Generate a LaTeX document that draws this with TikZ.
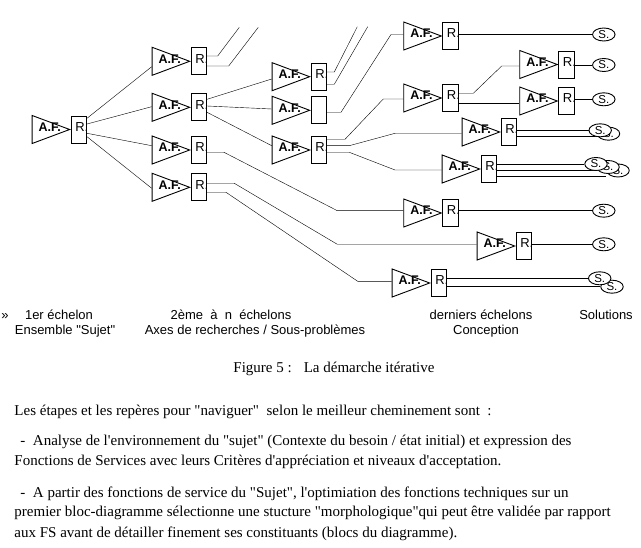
\documentclass[tikz,border=0pt]{standalone}
\usepackage{fontspec}
\setmainfont{Liberation Serif}[Ligatures=TeXOff]
\setsansfont{Liberation Sans}[Ligatures=TeXOff]
\usetikzlibrary{shapes.geometric, positioning, backgrounds}

\begin{document}
\begin{tikzpicture}[
    x=1pt, y=-1pt, line width=0.9pt,
    af/.style={draw, isosceles triangle, isosceles triangle stretches,
               minimum width=28pt, minimum height=37.5pt, inner sep=0pt,
               anchor=west,
               label={[anchor=west, inner sep=0pt, xshift=6.5pt, yshift=2.5pt,
                       font=\sffamily\bfseries\fontsize{12.5}{12}\selectfont]west:A.F.}},
    rbox/.style={draw, rectangle, anchor=west, minimum height=27pt,
                 text width=15.3pt, inner xsep=0pt, inner ysep=0pt, align=left,
                 text depth=5pt, execute at begin node={\hspace*{4pt}},
                 font=\sffamily\fontsize{13}{13}\selectfont},
    sol/.style={draw, ellipse, fill=white, minimum width=22.5pt,
                minimum height=13pt, inner sep=0pt,
                font=\sffamily\fontsize{11.5}{12}\selectfont},
    lbl/.style={font=\sffamily\fontsize{13}{15}\selectfont, inner sep=0pt,
                anchor=base},
    para/.style={font=\fontsize{15}{18}\selectfont, inner sep=0pt,
                 anchor=base west}
]
\useasboundingbox (0,0) rectangle (641,548);

% --- 1er echelon
\node[af]   (a0)  at (31.7,129.5) {};
\node[rbox] (a0r) at (a0.apex) {R.};

% --- 2eme echelon
\node[af]   (b1)  at (151.7,61.3) {};
\node[rbox] (b1r) at (b1.apex) {R.};
\node[af]   (b2)  at (151.7,107.3) {};
\node[rbox] (b2r) at (b2.apex) {R.};
\node[af]   (b3)  at (151.7,150) {};
\node[rbox] (b3r) at (b3.apex) {R.};
\node[af]   (b4)  at (151.7,187.3) {};
\node[rbox] (b4r) at (b4.apex) {R.};

% --- n-eme echelon
\node[af]   (c1)  at (271.7,76.7) {};
\node[rbox] (c1r) at (c1.apex) {R.};
\node[af]   (c2)  at (271.7,110.3) {};
\node[rbox] (c2r) at (c2.apex) {};
\node[af]   (c3)  at (271.7,150) {};
\node[rbox] (c3r) at (c3.apex) {R.};

% --- derniers echelons
\node[af]   (d1)  at (403.3,36) {};
\node[rbox] (d1r) at (d1.apex) {R.};
\node[af]   (d2)  at (403.3,98) {};
\node[rbox] (d2r) at (d2.apex) {R.};
\node[af]   (e1)  at (519.3,64.5) {};
\node[rbox] (e1r) at (e1.apex) {R.};
\node[af]   (e2)  at (519.3,101) {};
\node[rbox] (e2r) at (e2.apex) {R.};
\node[af]   (d3)  at (461.7,132) {};
\node[rbox] (d3r) at (d3.apex) {R.};
\node[af]   (d4)  at (441.7,169) {};
\node[rbox] (d4r) at (d4.apex) {R.};
\node[af]   (d5)  at (403.3,213) {};
\node[rbox] (d5r) at (d5.apex) {R.};
\node[af]   (d6)  at (476.7,246) {};
\node[rbox] (d6r) at (d6.apex) {R.};
\node[af]   (d7)  at (391.7,283) {};
\node[rbox] (d7r) at (d7.apex) {R.};

% --- solutions (back ones first)
\node[sol] (s1)  at (603.8,34.5)  {S.};
\node[sol] (s2)  at (603.8,65)    {S.};
\node[sol] (s3)  at (603.8,99.3)  {S.};
\node[sol] (s4b) at (608.5,133.7) {S.};
\node[sol] (s4a) at (600.2,130.3) {S.};
\node[sol] (s5c) at (618,170.5)   {S.};
\node[sol] (s5b) at (608,167)     {S.};
\node[sol] (s5a) at (596,164)     {S.};
\node[sol] (s6)  at (603.8,210.7) {S.};
\node[sol] (s7)  at (603.8,244.3) {S.};
\node[sol] (s8b) at (612,286.7)   {S.};
\node[sol] (s8a) at (599.7,278.3) {S.};

% --- open ends going off the top
\coordinate (b1upa) at (239.3,27.3);
\coordinate (b1upb) at (258.3,27.3);
\coordinate (c1upa) at (357.3,26.7);
\coordinate (c1upb) at (367.7,26.7);

\begin{scope}[on background layer]
% 1er -> 2eme
\draw (a0r.east |- 0,118.3) -- (b1.west |- 0,66.7);
\draw (a0r.east |- 0,124)   -- (b2.west |- 0,106.7);
\draw (a0r.east |- 0,133.3) -- (b3.west |- 0,145.7);
\draw (a0r.east |- 0,136.7) -- (b4.west |- 0,188.3);
% 2eme -> suite
\draw (b1r.east |- 0,56) -- (217.7,56) -- (b1upa);
\draw (b1r.east |- 0,66) -- (228.7,66) -- (b1upb);
\draw (b2r.east |- 0,99.3)  -- (c1.west |- 0,79);
\draw (b2r.east |- 0,106)   -- (c2.west |- 0,109);
\draw (b2r.east |- 0,112.3) -- (c3.west |- 0,145.7);
\draw (b3r.east |- 0,152.3) -- (224,152.3) -- (337.3,210.7) -- (d5.west |- 0,210.7);
\draw (b4r.east |- 0,183.3) -- (234.3,183.3) -- (337.3,244.3) -- (d6.west |- 0,244.3);
\draw (b4r.east |- 0,192.3) -- (226,192.3) -- (358.3,281.7) -- (d7.west |- 0,281.7);
% n-eme -> derniers
\draw (c1r.east |- 0,72)   -- (334.3,72)   -- (c1upa);
\draw (c1r.east |- 0,84.3) -- (334.3,84.3) -- (c1upb);
\draw (c2r.east |- 0,112.3) -- (341,112.3) -- (391,34.5) -- (d1.west |- 0,34.5);
\draw (c3r.east |- 0,139.3) -- (345,139.3) -- (383.3,99) -- (d2.west |- 0,99);
\draw (c3r.east |- 0,145.7) -- (349.3,145.7) -- (395,133.3) -- (d3.west |- 0,133.3);
\draw (c3r.east |- 0,152.3) -- (349.3,152.3) -- (395,170) -- (d4.west |- 0,170);
\draw (d2r.east |- 0,93.3) -- (473.3,93.3) -- (501.7,66) -- (e1.west |- 0,66);
\draw (d2r.east |- 0,103.3) -- (e2.west |- 0,103.3);
% derniers -> solutions
\draw (d1r.east |- s1) -- (s1);
\draw (e1r.east |- s2) -- (s2);
\draw (e2r.east |- s3) -- (s3);
\draw (d3r.east |- 0,130) -- (s4a.west |- 0,130);
\draw (d3r.east |- 0,136) -- (s4b.west |- 0,136);
\draw (d4r.east |- 0,164) -- (s5a.west |- 0,164);
\draw (d4r.east |- 0,170) -- (s5b.west |- 0,170);
\draw (d4r.east |- 0,176) -- (s5c.west |- 0,176);
\draw (d5r.east |- s6) -- (s6);
\draw (d6r.east |- s7) -- (s7);
\draw (d7r.east |- 0,278.3) -- (s8a.west |- 0,278.3);
\draw (d7r.east |- 0,286.7) -- (s8b.west |- 0,286.7);
\end{scope}

% --- legend under the tree
\node[lbl] (l0)  at (5,320)   {»};
\node[lbl] (l1a) at (59,320)  {1er échelon};
\node[lbl] (l1b) at (65,335)  {Ensemble "Sujet"};
\node[lbl] (l2a) at (231,320) {2ème\ \ à\ \ n\ \ échelons};
\node[lbl] (l2b) at (255,335) {Axes de recherches / Sous-problèmes};
\node[lbl] (l3a) at (481,320) {derniers échelons};
\node[lbl] (l3b) at (486,335) {Conception};
\node[lbl] (l4)  at (606,320) {Solutions};

% --- caption and text
\node[para] (cap) at (233,373) {Figure 5 :\hspace{12pt}La démarche itérative};
\node[para] (p1)  at (14,416) {Les étapes et les repères pour "naviguer"\ \ selon le meilleur cheminement sont\ \ :};
\node[para] (p2a) at (14,446) {\hspace*{6pt}-\ \ Analyse de l'environnement du "sujet" (Contexte du besoin / état initial) et expression des};
\node[para] (p2b) at (14,466) {Fonctions de Services avec leurs Critères d'appréciation et niveaux d'acceptation.};
\node[para] (p3a) at (14,497) {\hspace*{6pt}-\ \ A partir des fonctions de service du "Sujet", l'optimiation des fonctions techniques sur un};
\node[para] (p3b) at (14,517) {premier bloc-diagramme sélectionne une stucture "morphologique"qui peut être validée par rapport};
\node[para] (p3c) at (14,537) {aux FS avant de détailler finement ses constituants (blocs du diagramme).};
\end{tikzpicture}
\end{document}
